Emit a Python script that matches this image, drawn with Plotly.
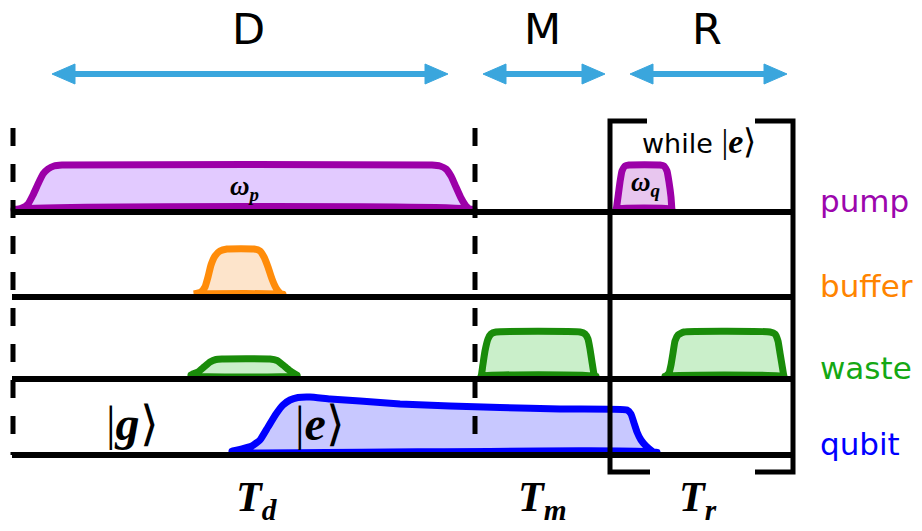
import plotly.graph_objects as go

# ---------------- data ----------------
channels = ["pump", "buffer", "waste", "qubit"]
channel_colors = ["#9c06ad", "#ff8400", "#14a814", "#0000ff"]

phase_labels = ["D", "M", "R"]
phase_start = [52, 483, 630]
phase_end = [448, 605, 787]
duration_labels = ["T<sub>d</sub>", "T<sub>m</sub>", "T<sub>r</sub>"]
duration_x = [257, 542, 698]

# pulse envelopes: time points and amplitudes
wp_t = [14, 22, 28, 33, 38, 43, 48, 54, 62, 432, 440, 446, 451, 456, 461, 466, 471, 474]
wp_a = [2, 4, 8, 17, 28, 38, 43, 46, 47, 47, 46, 43, 36, 25, 14, 6, 2, 1]

wq_t = [616, 618, 620, 622, 625, 629, 660, 664, 667, 669, 671, 672]
wq_a = [1, 15, 30, 41, 46, 47, 47, 46, 41, 30, 15, 1]

buf_t = [194, 201, 205, 208, 211, 215, 220, 227, 254, 260, 264, 268, 272, 276, 280, 283]
buf_a = [3, 5, 10, 20, 32, 41, 46, 48, 48, 46, 40, 30, 18, 9, 4, 2]

ws1_t = [191, 198, 204, 210, 216, 222, 270, 277, 283, 289, 295, 297]
ws1_a = [4, 7, 12, 17, 19.5, 20, 20, 18.5, 14, 9, 5, 4]

ws2_t = [481, 483, 485, 488, 491, 496, 580, 585, 588, 590, 592, 594, 596]
ws2_a = [1, 15, 28, 40, 45, 47, 47, 45, 40, 30, 17, 5, 1]

ws3_t = [665, 669, 671, 673, 675, 678, 684, 770, 775, 778, 780, 782, 784]
ws3_a = [2, 6, 14, 26, 38, 44, 47, 47, 45, 38, 26, 14, 2]

qb_t = [232, 242, 252, 260, 268, 276, 283, 290, 298, 310, 330, 360, 400, 450, 500, 560, 627, 631, 634, 637, 641, 646, 652, 657]
qb_a = [4, 6, 9, 15, 28, 41, 50, 55, 57.5, 58, 56, 54, 51, 49, 47.5, 46, 45, 41, 32, 23, 15, 9, 4, 1]

pulses = [
    ("pump", wp_t, wp_a, "#e2caff"),
    ("pump", wq_t, wq_a, "#e8c6ef"),
    ("buffer", buf_t, buf_a, "#fde4cb"),
    ("waste", ws1_t, ws1_a, "#caefca"),
    ("waste", ws2_t, ws2_a, "#caefca"),
    ("waste", ws3_t, ws3_a, "#caefca"),
    ("qubit", qb_t, qb_a, "#c8c8ff"),
]
pulse_line_colors = {"pump": "#9c00a8", "buffer": "#ff8c0a", "waste": "#1a8c0a", "qubit": "#0000ff"}

# ---------------- layout geometry ----------------
W, H = 922, 531
base_y = {"pump": 212, "buffer": 297, "waste": 379, "qubit": 455}
x_left, x_right = 12, 792
dash_x = [13, 475]
dash_top = 128
brk_left, brk_right, brk_top, brk_bot = 610, 793, 121, 472
arrow_y = 74
BLACK = "#000000"
ARROW = "#3aa6dd"

fig = go.Figure()

# pulses
for ch, t, a, fillc in pulses:
    b = base_y[ch]
    xs = list(t) + [t[-1], t[0], t[0]]
    ys = [b - v for v in a] + [b - 3, b - 3, b - a[0]]
    fig.add_trace(go.Scatter(x=xs, y=ys, mode="lines", fill="toself", fillcolor=fillc,
                             line=dict(color=pulse_line_colors[ch], width=7, shape="spline", smoothing=0.4),
                             hoverinfo="skip", showlegend=False))

# channel baselines
for ch in channels:
    fig.add_trace(go.Scatter(x=[x_left, x_right], y=[base_y[ch]] * 2, mode="lines",
                             line=dict(color=BLACK, width=6), hoverinfo="skip", showlegend=False))

# dashed separators
for dx in dash_x:
    fig.add_shape(type="line", x0=dx, x1=dx, y0=dash_top, y1=base_y["qubit"], xref="x", yref="y",
                  line=dict(color=BLACK, width=5, dash="18px,18px"))

# bracket for repeat block
fig.add_trace(go.Scatter(x=[647, brk_left, brk_left, 650], y=[brk_top, brk_top, brk_bot, brk_bot],
                         mode="lines", line=dict(color=BLACK, width=5), hoverinfo="skip", showlegend=False))
fig.add_trace(go.Scatter(x=[755, brk_right, brk_right, 755], y=[brk_top, brk_top, brk_bot, brk_bot],
                         mode="lines", line=dict(color=BLACK, width=5), hoverinfo="skip", showlegend=False))

# phase arrows
HL, HH = 23, 10
for s, e in zip(phase_start, phase_end):
    fig.add_trace(go.Scatter(x=[s + HL - 2, e - HL + 2], y=[arrow_y, arrow_y], mode="lines",
                             line=dict(color=ARROW, width=6), hoverinfo="skip", showlegend=False))
    fig.add_trace(go.Scatter(x=[s, s + HL, s + HL, s], y=[arrow_y, arrow_y - HH, arrow_y + HH, arrow_y],
                             mode="lines", fill="toself", fillcolor=ARROW, line=dict(color=ARROW, width=1),
                             hoverinfo="skip", showlegend=False))
    fig.add_trace(go.Scatter(x=[e, e - HL, e - HL, e], y=[arrow_y, arrow_y - HH, arrow_y + HH, arrow_y],
                             mode="lines", fill="toself", fillcolor=ARROW, line=dict(color=ARROW, width=1),
                             hoverinfo="skip", showlegend=False))

ann = []
SANS = "DejaVu Sans"
SERIF = "Liberation Serif"
for lab, s, e in zip(phase_labels, phase_start, phase_end):
    ann.append(dict(x=(s + e) / 2 - 2, y=29, text=lab, showarrow=False,
                    font=dict(family=SANS, size=43, color=BLACK)))
for lab, x in zip(duration_labels, duration_x):
    ann.append(dict(x=x, y=500, text="<b><i>" + lab + "</i></b>", showarrow=False,
                    font=dict(family=SERIF, size=42, color=BLACK)))
for ch, c in zip(channels, channel_colors):
    ann.append(dict(x=818, y=base_y[ch] - 11, text=ch, showarrow=False, xanchor="left",
                    font=dict(family=SANS, size=31, color=c)))
ann.append(dict(x=244, y=188, text="<b><i>ω<sub>p</sub></i></b>", showarrow=False,
                font=dict(family=SERIF, size=27, color=BLACK)))
ann.append(dict(x=645, y=184, text="<b><i>ω<sub>q</sub></i></b>", showarrow=False,
                font=dict(family=SERIF, size=27, color=BLACK)))
ann.append(dict(x=699, y=141,
                text='while <span style="font-family:Liberation Serif;font-size:34px">|<b><i>e</i></b>⟩</span>',
                showarrow=False, font=dict(family=SANS, size=27, color=BLACK)))
ann.append(dict(x=132, y=423, text="|<b><i>g</i></b>⟩", showarrow=False,
                font=dict(family=SERIF, size=48, color=BLACK)))
ann.append(dict(x=320, y=423, text="|<b><i>e</i></b>⟩", showarrow=False,
                font=dict(family=SERIF, size=48, color=BLACK)))

fig.update_layout(
    width=W, height=H, margin=dict(l=0, r=0, t=0, b=0),
    paper_bgcolor="white", plot_bgcolor="white",
    xaxis=dict(range=[0, W], visible=False, fixedrange=True),
    yaxis=dict(range=[H, 0], visible=False, fixedrange=True),
    annotations=ann, showlegend=False,
)
fig.write_html("out.html", config={"displayModeBar": False},
               post_script="document.body.style.margin='0px';document.body.style.overflow='hidden';")
